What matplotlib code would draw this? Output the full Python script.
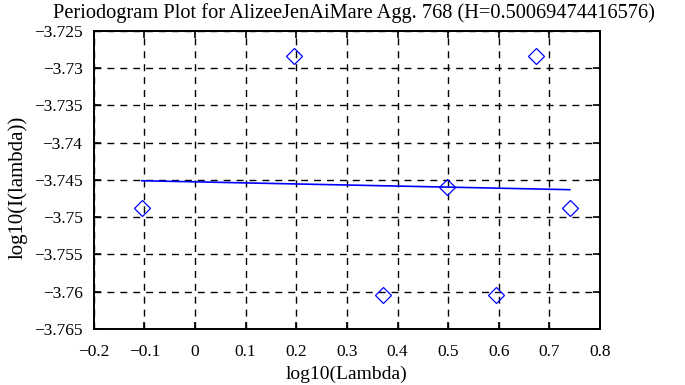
import matplotlib
matplotlib.use("Agg")
import matplotlib.pyplot as plt

# periodogram points (log10 of frequency, log10 of I(lambda))
log_lambda = [-0.1049, 0.1961, 0.3722, 0.4971, 0.5941, 0.6732, 0.7402]
log_i = [-3.7487, -3.7284, -3.7605, -3.7460, -3.7605, -3.7284, -3.7487]

# fitted line end points
fit_x = [-0.1049, 0.7402]
fit_y = [-3.7451, -3.7463]

x_ticks = [-0.2, -0.1, 0, 0.1, 0.2, 0.3, 0.4, 0.5, 0.6, 0.7, 0.8]
x_labels = ["-0.2", "-0.1", "0", "0.1", "0.2", "0.3", "0.4", "0.5", "0.6", "0.7", "0.8"]
y_ticks = [-3.765, -3.76, -3.755, -3.75, -3.745, -3.74, -3.735, -3.73, -3.725]
y_labels = ["-3.765", "-3.76", "-3.755", "-3.75", "-3.745", "-3.74", "-3.735", "-3.73", "-3.725"]

plt.rcParams["font.family"] = ["Liberation Serif", "DejaVu Serif"]
plt.rcParams["font.size"] = 12.5

fig = plt.figure(figsize=(6.85, 3.85), dpi=100)
ax = fig.add_axes([0.1368, 0.1455, 0.7392, 0.774])

ax.plot(log_lambda, log_i, linestyle="none", marker="D", markersize=8,
        markerfacecolor="none", markeredgecolor="blue", markeredgewidth=0.9)
ax.plot(fit_x, fit_y, color="blue", linewidth=1.2)

ax.set_xlim(-0.2, 0.8)
ax.set_ylim(-3.765, -3.725)
ax.set_xticks(x_ticks)
ax.set_xticklabels([s.replace("-", "\u2212") for s in x_labels])
ax.set_yticks(y_ticks)
ax.set_yticklabels([s.replace("-", "\u2212") for s in y_labels])

ax.grid(True, color="black", linestyle=(0, (5, 4.3)), linewidth=1.0)
ax.tick_params(direction="in", top=True, right=True, length=5, width=1.2)
ax.tick_params(axis="x", pad=11)
ax.tick_params(axis="y", pad=8)
for s in ax.spines.values():
    s.set_linewidth(1.4)

ax.set_title("Periodogram Plot for AlizeeJenAiMare Agg. 768 (H=0.50069474416576)",
             fontsize=14.7, pad=9, x=0.513)
ax.set_xlabel("log10(Lambda)", fontsize=14, labelpad=4)
ax.set_ylabel("log10(I(lambda))", fontsize=15)
ax.yaxis.set_label_coords(-0.13, 0.476)

fig.savefig("out.png", dpi=100)
